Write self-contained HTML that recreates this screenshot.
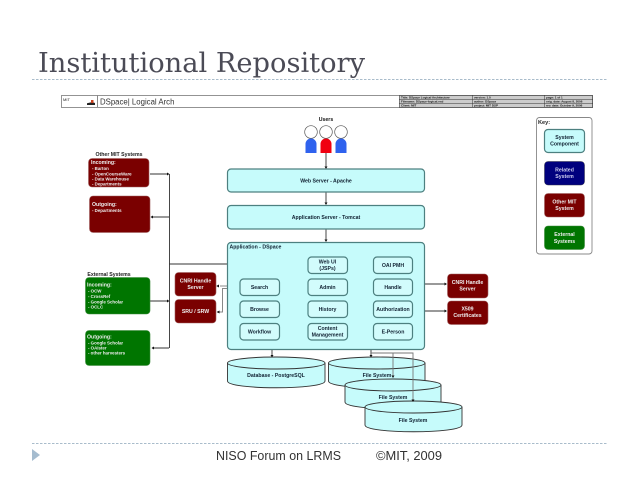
<!DOCTYPE html>
<html><head><meta charset="utf-8">
<style>
html,body{margin:0;padding:0;background:#fff;width:638px;height:479px;overflow:hidden}
svg{display:block}
text{font-family:"Liberation Sans",sans-serif}
.b{font-weight:bold;font-size:5.2px;text-anchor:middle;fill:#123}
.w{font-weight:bold;font-size:5.2px;text-anchor:middle;fill:#eee}
.l{font-size:4.4px;fill:#eee;font-weight:bold}
.h{font-weight:bold;font-size:5.2px;fill:#eee}
.c{fill:#c6fbfb;stroke:#4d8080;stroke-width:1.2}
.cw{fill:#d2fcfc;stroke:#4d8080;stroke-width:1.2}
.r{fill:#7a0000;stroke:#a06060;stroke-width:.6}
.g{fill:#007500;stroke:#3c8c3c;stroke-width:.6}
.ln{stroke:#333;stroke-width:.9;fill:none}
.g2{stroke:#888;stroke-width:1;fill:none}
.t{font-size:3px;font-weight:bold;fill:#111}
#d{filter:blur(.35px)}
</style></head><body>
<svg width="638" height="479" viewBox="0 0 638 479" xmlns="http://www.w3.org/2000/svg">
<text x="38" y="72" textLength="327" lengthAdjust="spacingAndGlyphs" style="font-family:'DejaVu Serif','Liberation Serif',serif;font-size:27px" fill="#4b4b56">Institutional Repository</text>
<line x1="32" y1="79.5" x2="607" y2="79.5" stroke="#a9bccb" stroke-width="1" stroke-dasharray="2.5 1.5"/>
<line x1="32" y1="443.5" x2="607" y2="443.5" stroke="#a9bccb" stroke-width="1" stroke-dasharray="2.5 1.5"/>
<polygon points="32,449 40,455 32,461" fill="#a5bccf"/>
<text x="216" y="460" font-size="12.6" textLength="125" lengthAdjust="spacingAndGlyphs" fill="#333">NISO Forum on LRMS</text>
<text x="376" y="460" font-size="12.6" textLength="66" lengthAdjust="spacingAndGlyphs" fill="#333">©MIT, 2009</text>

<g id="d">
<!-- header -->
<rect x="61.5" y="95.5" width="531" height="12" fill="#fff" stroke="#888" stroke-width=".9"/>
<line x1="97.5" y1="95" x2="97.5" y2="107" stroke="#888"/>
<text x="63" y="101" font-size="4" fill="#222">MIT</text>
<path d="M87 105h8v-2l-2-.8-.6-2-1 2-4.4 1z" fill="#222"/><rect x="91" y="100" width="2.5" height="3" fill="#c8401e"/>
<text x="100" y="104.5" font-size="7.8" fill="#333">DSpace| Logical Arch</text>
<rect x="399.5" y="95.5" width="193" height="12" fill="#ccc" stroke="#333" stroke-width=".6"/>
<path d="M399 99.5H593M399 103.500H593M472.500 95V107M544.500 95V107" stroke="#333" stroke-width=".5" fill="none"/>
<text class="t" x="401" y="98.5">Title: DSpace Logical Architecture</text><text class="t" x="474" y="98.5">version: 1.0</text><text class="t" x="546" y="98.5">page: 1 of 1</text>
<text class="t" x="401" y="102.5">Filename: DSpace-logical.vsd</text><text class="t" x="474" y="102.5">author: DSpace</text><text class="t" x="546" y="102.5">orig. date: August 8, 2006</text>
<text class="t" x="401" y="106.5">Client: MIT</text><text class="t" x="474" y="106.5">project: MIT DSP</text><text class="t" x="546" y="106.5">rev. date: October 9, 2006</text>

<!-- users -->
<text x="326" y="121" class="b" style="fill:#111">Users</text>
<g fill="#fff" stroke="#555" stroke-width=".7"><circle cx="311" cy="132" r="6.3"/><circle cx="326" cy="132" r="6.3"/><circle cx="341" cy="132" r="6.3"/></g>
<path d="M305.5 153v-9a5.5 5.500 0 0 1 11 0v9z" fill="#2f62ee"/>
<path d="M320.5 153v-9a5.5 5.500 0 0 1 11 0v9z" fill="#f00010"/>
<path d="M335.5 153v-9a5.5 5.500 0 0 1 11 0v9z" fill="#2f62ee"/>

<!-- connectors -->
<path class="ln" d="M326 153V168M326 192V204M326 229V241M272 350V356M371 350V356"/>
<path class="ln" d="M169.5 174V348M150 174H168M151 217H169M150 301H168M152 348H169M169 264H227"/>
<path class="g2" d="M220 286H240M240 288.5H222.5V312H217"/>
<path class="ln" d="M412 284H446M412 311H446"/>
<path d="M371 353H413V401M393 353V377" stroke="#777" stroke-width=".9" fill="none"/>
<g fill="#111">
<path d="M324.5 166.5h3l-1.5 2.5zM324.5 202.5h3l-1.5 2.5zM324.5 239.5h3l-1.5 2.5zM270.5 355h3l-1.5 2.5zM369.5 355h3l-1.5 2.5z"/>
<path d="M167 172.5v3l2.5-1.5zM167 299.5v3l2.5-1.5zM153 215.5v3l-2.5-1.5zM154 346.5v3l-2.5-1.5z"/>
<path d="M219 284.5v3l-2.8-1.5zM219.5 310.5v3l-2.8-1.5zM444.5 282.5v3l2.5-1.5zM444.5 309.5v3l2.5-1.5z"/>
</g>

<!-- main boxes -->
<rect class="c" x="227.5" y="169" width="197" height="23" rx="3.5"/>
<text class="b" x="326" y="182.5">Web Server - Apache</text>
<rect class="c" x="227.5" y="205.5" width="197" height="23.5" rx="3.5"/>
<text class="b" x="326" y="219">Application Server - Tomcat</text>
<rect class="c" x="227.5" y="242.5" width="197" height="107" rx="3.5"/>
<text x="229.5" y="248.5" style="font-size:5.2px;font-weight:bold;fill:#123">Application - DSpace</text>

<g>
<rect class="cw" x="308" y="257" width="39.5" height="16.5" rx="3.5"/><text class="b" x="327.5" y="263.5">Web UI</text><text class="b" x="327.5" y="270">(JSPs)</text>
<rect class="cw" x="373.5" y="257" width="39" height="16.5" rx="3.5"/><text class="b" x="393" y="267">OAI PMH</text>
<rect class="cw" x="240" y="279" width="39.5" height="16.5" rx="3.5"/><text class="b" x="259.5" y="289">Search</text>
<rect class="cw" x="308" y="279" width="39.5" height="16.5" rx="3.5"/><text class="b" x="327.5" y="289">Admin</text>
<rect class="cw" x="373.5" y="279" width="39" height="16.5" rx="3.5"/><text class="b" x="393" y="289">Handle</text>
<rect class="cw" x="240" y="301" width="39.5" height="16.5" rx="3.5"/><text class="b" x="259.5" y="311">Browse</text>
<rect class="cw" x="308" y="301" width="39.5" height="16.5" rx="3.5"/><text class="b" x="327.5" y="311">History</text>
<rect class="cw" x="373.5" y="301" width="39" height="16.5" rx="3.5"/><text class="b" x="393" y="311">Authorization</text>
<rect class="cw" x="240" y="323.5" width="39.5" height="16.5" rx="3.5"/><text class="b" x="259.5" y="333.5">Workflow</text>
<rect class="cw" x="308" y="323.5" width="39.5" height="16.5" rx="3.5"/><text class="b" x="327.5" y="330">Content</text><text class="b" x="327.5" y="336.5">Management</text>
<rect class="cw" x="373.5" y="323.5" width="39" height="16.5" rx="3.5"/><text class="b" x="393" y="333.5">E-Person</text>
</g>

<!-- left systems -->
<text x="119" y="156" class="b" style="fill:#222">Other MIT Systems</text>
<rect class="r" x="88.5" y="158.5" width="60.5" height="28.5" rx="3.5"/>
<text class="h" x="91" y="164">Incoming:</text>
<text class="l" x="92" y="170">- Barton</text><text class="l" x="92" y="175.5">- OpenCourseWare</text><text class="l" x="92" y="180.5">- Data Warehouse</text><text class="l" x="92" y="185.5">- Departments</text>
<rect class="r" x="89.5" y="196" width="60.5" height="36.5" rx="3.5"/>
<text class="h" x="92" y="206">Outgoing:</text>
<text class="l" x="92" y="212">- Departments</text>

<text x="109" y="276" class="b" style="fill:#222">External Systems</text>
<rect class="g" x="85.5" y="277.5" width="64.5" height="36.5" rx="3.5"/>
<text class="h" x="87" y="286.5">Incoming:</text>
<text class="l" x="88" y="292.5">- OCW</text><text class="l" x="88" y="298">- CrossRef</text><text class="l" x="88" y="303.5">- Google Scholar</text><text class="l" x="88" y="308.5">- OCLC</text>
<rect class="g" x="85.5" y="330.5" width="64.5" height="35" rx="3.5"/>
<text class="h" x="87" y="338.5">Outgoing:</text>
<text class="l" x="88" y="344.5">- Google Scholar</text><text class="l" x="88" y="349.5">- OAIster</text><text class="l" x="88" y="354.5">- other harvesters</text>

<rect class="r" x="175" y="272.5" width="41" height="23.5" rx="3.5"/><text class="w" x="195.5" y="282.5">CNRI Handle</text><text class="w" x="195.5" y="289">Server</text>
<rect class="r" x="175" y="299.5" width="41" height="23.5" rx="3.5"/><text class="w" x="195.5" y="313">SRU / SRW</text>

<rect class="r" x="447.5" y="274" width="40.5" height="24" rx="3.5"/><text class="w" x="467.5" y="284">CNRI Handle</text><text class="w" x="467.5" y="290.5">Server</text>
<rect class="r" x="447.5" y="301" width="40.5" height="23.5" rx="3.5"/><text class="w" x="467.5" y="310.5">X509</text><text class="w" x="467.5" y="317">Certificates</text>

<!-- key -->
<rect x="536.5" y="117.5" width="55.5" height="136.5" rx="3" fill="#fff" stroke="#888" stroke-width=".9"/>
<text x="538" y="124" style="font-size:5.6px;font-weight:bold;fill:#222">Key:</text>
<rect class="c" x="544.5" y="129.5" width="40" height="23" rx="3.5"/><text class="b" x="564.5" y="139">System</text><text class="b" x="564.5" y="145.5">Component</text>
<rect x="544.5" y="161.5" width="40" height="23.5" rx="3.5" fill="#00007e" stroke="#334" stroke-width=".5"/><text class="w" x="564.5" y="171.5" style="fill:#cce">Related</text><text class="w" x="564.5" y="178" style="fill:#cce">System</text>
<rect class="r" x="544.5" y="193.5" width="40" height="23.5" rx="3.5"/><text class="w" x="564.5" y="203.5">Other MIT</text><text class="w" x="564.5" y="210">System</text>
<rect class="g" x="544.5" y="226" width="40" height="23.5" rx="3.5"/><text class="w" x="564.5" y="236">External</text><text class="w" x="564.5" y="243">Systems</text>

<!-- cylinders -->
<g fill="#c6fbfb" stroke="#333" stroke-width=".9">
<path d="M227.5 363V381C227.5 390 325 390 325 381V363"/><ellipse cx="276.25" cy="363" rx="48.75" ry="6"/>
<path d="M328.5 363V381C328.5 390 425 390 425 381V363"/><ellipse cx="376.75" cy="363" rx="48.25" ry="6"/>
<path d="M345 385V402C345 411 441 411 441 402V385"/><ellipse cx="393" cy="385" rx="48" ry="6"/>
<path d="M365 407V425C365 434 462 434 462 425V407"/><ellipse cx="413.5" cy="407" rx="48.5" ry="6"/>
</g>
<text class="b" x="276" y="377">Database - PostgreSQL</text>
<text class="b" x="377" y="377">File System</text>
<text class="b" x="393" y="399">File System</text>
<text class="b" x="413" y="422">File System</text>
<path d="M393 357V377M413 357V401" stroke="#777" stroke-width=".9" fill="none"/>
<path d="M391.5 375.5h3l-1.5 2.5zM411.5 399.5h3l-1.5 2.5z" fill="#111"/>
</g>
</svg>
</body></html>
